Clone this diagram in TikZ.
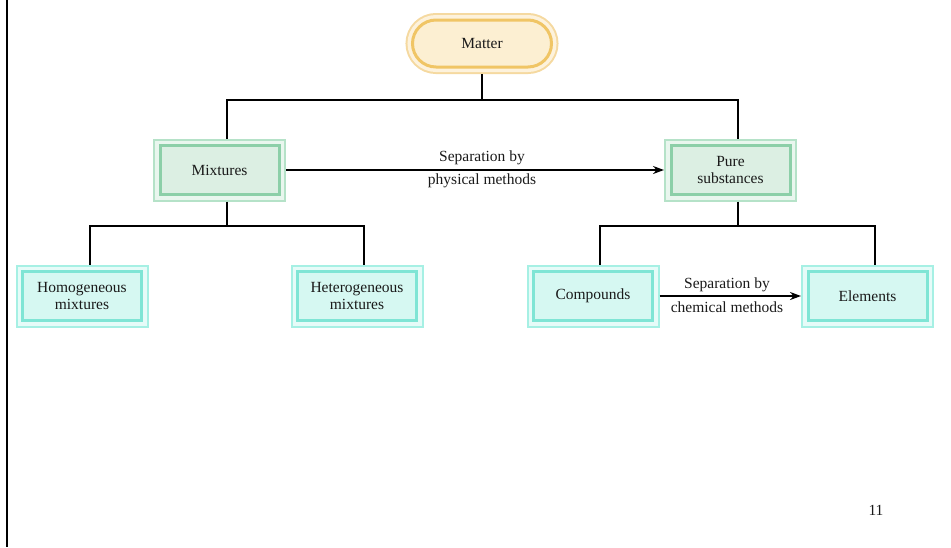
\documentclass[tikz,border=0pt]{standalone}
\usepackage{fontspec}
\setmainfont{Liberation Serif}
\usetikzlibrary{arrows.meta}
\definecolor{mOut}{HTML}{F5D9A0}
\definecolor{mBand}{HTML}{FDF2DC}
\definecolor{mLine}{HTML}{F0C565}
\definecolor{mFill}{HTML}{FCEFD2}
\definecolor{gOut}{HTML}{B5E2C8}
\definecolor{gBand}{HTML}{E9F6EE}
\definecolor{gLine}{HTML}{8CCFA8}
\definecolor{gFill}{HTML}{DCEFE3}
\definecolor{cOut}{HTML}{A6F0E4}
\definecolor{cBand}{HTML}{E6FBF8}
\definecolor{cLine}{HTML}{7FE5D5}
\definecolor{cFill}{HTML}{D6F8F2}
\definecolor{ink}{HTML}{1A1A1A}
\begin{document}
\begin{tikzpicture}[x=1pt,y=-1pt,
  txt/.style={font=\fontsize{15.5}{17.5}\selectfont, text=ink, align=center},
  framed/.style={txt, rectangle, line width=3pt, outer sep=7pt, inner sep=0pt,
    minimum width=119pt, minimum height=49pt},
  gbox/.style={framed, fill=gFill, draw=gLine,
    preaction={draw=gOut, line width=14pt},
    preaction={draw=gBand, line width=10pt}},
  cbox/.style={framed, fill=cFill, draw=cLine,
    preaction={draw=cOut, line width=14pt},
    preaction={draw=cBand, line width=10pt}},
  mbox/.style={txt, rectangle, rounded corners=23.5pt, line width=3pt, outer sep=7pt,
    minimum width=139pt, minimum height=47pt, fill=mFill, draw=mLine,
    preaction={draw=mOut, line width=14pt},
    preaction={draw=mBand, line width=10pt}},
  conn/.style={draw=black, line width=2pt},
  arr/.style={conn, -{Stealth[length=11pt,width=8pt]}},
  lab/.style={txt, inner sep=0pt}
]
\useasboundingbox (0,0) rectangle (951,547);
\draw[line width=2pt] (7,0) -- (7,547);

\node[mbox] (matter) at (482,43.5) {Matter};
\node[gbox] (mix) at (219.5,170) {Mixtures};
\node[gbox] (pure) at (730.5,170) {Pure\\substances};
\node[cbox] (homo) at (82,296) {Homogeneous\\mixtures};
\node[cbox] (het) at (357,296) {Heterogeneous\\mixtures};
\node[cbox] (comp) at (593,296) {Compounds};
\node[cbox] (elem) at (867.5,296) {Elements};

\draw[conn] (matter.south) -- ++(0,26) coordinate (jt);
\draw[conn] ([xshift=7.5pt]mix.north) |- (jt) -| ([xshift=7.5pt]pure.north);

\draw[conn] ([xshift=7.5pt]mix.south) -- ++(0,24) coordinate (jm);
\draw[conn] ([xshift=8pt]homo.north) |- (jm) -| ([xshift=7pt]het.north);

\draw[conn] ([xshift=7.5pt]pure.south) -- ++(0,24) coordinate (jp);
\draw[conn] ([xshift=7pt]comp.north) |- (jp) -| ([xshift=7.5pt]elem.north);

\draw[arr] (mix.east) -- (pure.west);
\draw[arr] (comp.east) -- (elem.west);

\node[lab] (s1) at (482,158) {Separation by};
\node[lab] (p1) at (482,181) {physical methods};
\node[lab] (s2) at (727,284.5) {Separation by};
\node[lab] (p2) at (727,307) {chemical methods};

\node[lab] (pg) at (876,510) {11};
\end{tikzpicture}
\end{document}
